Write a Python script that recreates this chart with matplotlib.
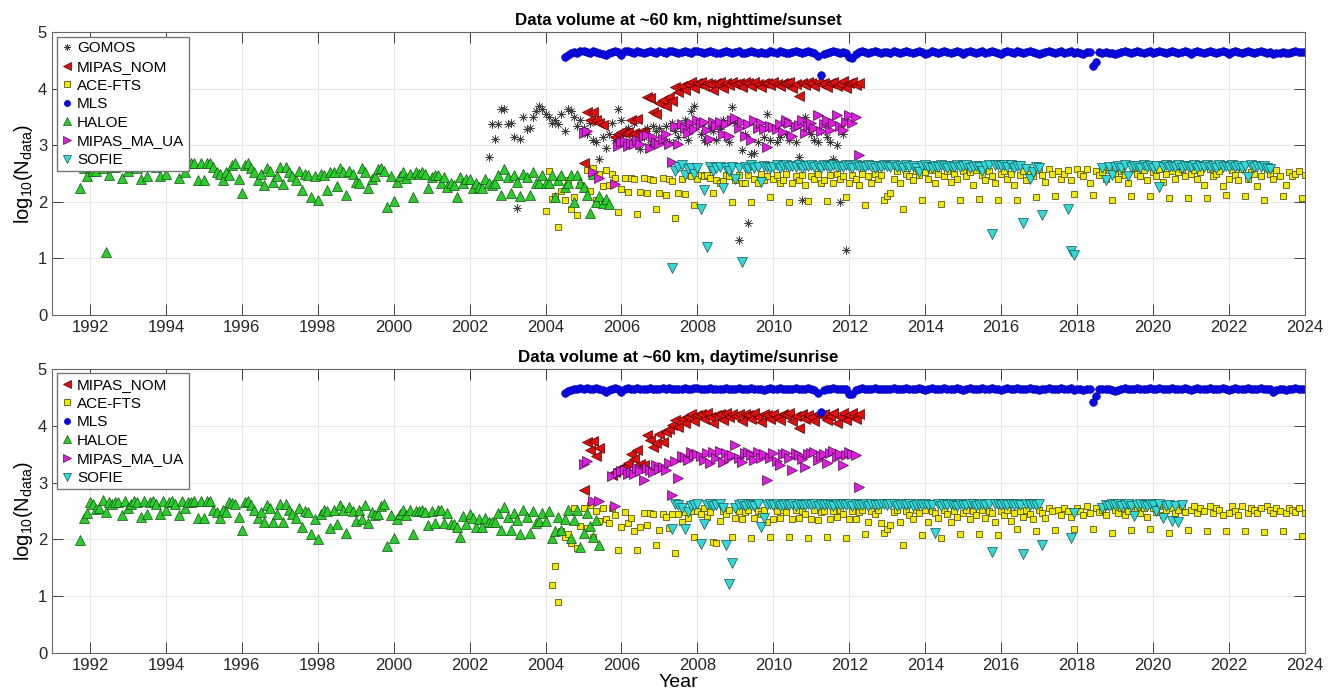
import numpy as np
import matplotlib.pyplot as plt

plt.rcParams['font.family'] = ['Liberation Sans', 'DejaVu Sans']
plt.rcParams['mathtext.fontset'] = 'custom'
plt.rcParams['mathtext.rm'] = 'Liberation Sans'
plt.rcParams['mathtext.it'] = 'Liberation Sans:italic'

nan = np.nan

# ---- nighttime / sunset (monthly values, log10 of number of profiles) ----
gomos_ss_start = 2002.5
gomos_ss = [
    2.80, 3.37, 3.12, 3.37, 3.65, 3.65,
    3.37, 3.40, 3.15, 1.89, 3.12, 3.50, 3.28, 3.30, 3.50, 3.60, 3.69, 3.65,
    3.55, 3.50, 3.40, 3.45, 3.38, 3.55, 3.26, 3.65, 3.60, 3.50, 3.35, 3.45,
    3.30, 3.20, 3.40, 3.10, 3.05, 2.75, 3.15, 2.95, 3.20, 3.40, 3.10, 3.65,
    3.45, 3.25, 3.30, 3.05, 3.40, 3.20, 2.94, 3.15, 3.30, 3.00, 3.35, 3.25,
    3.30, 3.10, 3.35, 3.05, 3.40, 3.25, 3.15, 3.30, 3.45, 3.10, 3.60, 3.69,
    3.40, 3.20, 3.10, 3.05, 3.30, 3.25, 3.10, 3.28, 3.45, 3.15, 3.05, 3.67,
    3.40, 1.32, 2.91, 3.20, 1.62, 2.85, 2.87, 3.05, 3.35, 3.15, 3.55, 3.10,
    3.30, 3.05, 3.15, 3.40, 3.20, 3.10, 3.35, 3.05, 2.80, 2.03, 3.50, 3.30,
    3.20, 3.10, 3.05, 3.25, 3.40, 3.15, 3.05, 2.75, 3.00, 2.00, 3.20, 1.15,
]

mipas_nom_ss_start = 2005.0
mipas_nom_ss = [
    2.69, 3.59, 3.45, 3.59, 3.45, 3.39, 3.36, nan, nan, nan, 3.15, 3.20,
    3.24, 3.22, 3.24, 3.45, 3.21, 3.46, 3.24, 3.22, 3.85, 3.83, 3.59, 3.55,
    3.74, 3.80, 3.70, 3.85, 3.78, 4.03, 3.95, 4.05, 3.98, 4.08, 4.12, 4.02,
    4.10, 4.12, 4.05, 4.11, 4.08, 3.98, 4.10, 4.12, 4.02, 4.11, 4.06, 4.12,
    4.08, 4.11, 4.03, 4.12, 4.10, 4.05, 4.12, 4.09, 4.03, 4.11, 4.10, 4.06,
    4.12, 4.08, 4.04, 4.11, 4.10, 4.12, 4.02, 4.09, 3.87, 4.11, 4.06, 4.12,
    4.10, 4.04, 4.12, 4.08, 4.11, 4.03, 4.10, 4.12, 4.05, 4.08, 4.13, 4.02,
    4.10, 4.12, 4.06, 4.11,
]

ace_ss_start = 2004.0
ace_ss = [
    1.84, 2.54, 2.05, 2.10, 1.56, 2.20, 2.03, 2.38, 1.87, 2.08, 1.77, 2.30,
    2.22, 2.56, 2.20, 2.60, 2.03, 2.50, 2.28, 2.57, 2.30, 2.50, 2.43, 1.82,
    2.22, 2.42, 2.18, 2.42, 2.40, 1.78, 2.18, 2.43, 2.15, 2.40, 2.38, 1.87,
    2.16, 2.43, 2.13, 2.40, 2.37, 1.71, 2.16, 2.40, 2.14, 2.47, 2.45, 1.94,
    2.41, 2.47, 2.45, 2.47, 2.43, 2.15, 2.39, 2.33, 2.37, 2.47, 2.45, 2.00,
    2.39, 2.47, 2.33, 2.33, 2.47, 2.00, 2.41, 2.33, 2.50, 2.39, 2.45, 2.09,
    2.41, 2.47, 2.33, 2.39, 2.50, 2.00, 2.33, 2.45, 2.39, 2.47, 2.30, 2.02,
    2.45, 2.41, 2.50, 2.33, 2.39, 2.02, 2.47, 2.33, 2.50, 2.41, 2.45, 2.09,
    2.33, 2.47, 2.41, 2.30, 2.50, 1.94, 2.45, 2.33, 2.50, 2.41, 2.47, 2.03,
    2.10, 2.15, 2.41, 2.55, 2.33, 1.87, 2.50, 2.45, 2.38, 2.55, 2.47, 2.03,
    2.52, 2.41, 2.56, 2.33, 2.50, 1.96, 2.45, 2.55, 2.36, 2.50, 2.41, 2.03,
    2.55, 2.45, 2.52, 2.30, 2.56, 2.05, 2.47, 2.38, 2.55, 2.45, 2.33, 2.04,
    2.50, 2.55, 2.41, 2.50, 2.30, 2.03, 2.47, 2.55, 2.38, 2.50, 2.45, 2.09,
    2.56, 2.47, 2.36, 2.58, 2.50, 2.10, 2.55, 2.41, 2.50, 2.56, 2.38, 2.14,
    2.58, 2.50, 2.45, 2.58, 2.33, 2.12, 2.55, 2.47, 2.52, 2.41, 2.56, 2.04,
    2.50, 2.41, 2.55, 2.47, 2.33, 2.10, 2.58, 2.50, 2.45, 2.56, 2.38, 2.10,
    2.52, 2.45, 2.58, 2.36, 2.50, 2.06, 2.55, 2.41, 2.52, 2.58, 2.45, 2.07,
    2.50, 2.56, 2.41, 2.52, 2.30, 2.07, 2.58, 2.45, 2.50, 2.55, 2.28, 2.12,
    2.41, 2.56, 2.47, 2.38, 2.58, 2.10, 2.41, 2.52, 2.50, 2.28, 2.45, 2.04,
    2.58, 2.50, 2.41, 2.56, 2.45, 2.10, 2.30, 2.52, 2.45, 2.50, 2.55, 2.06,
    2.47,
]

mls_ss_start = 2004.5
mls_ss = [
    4.57, 4.60, 4.63, 4.65, 4.64, 4.66,
    4.66, 4.65, 4.64, 4.66, 4.65, 4.64, 4.62, 4.60, 4.63, 4.65, 4.66, 4.65,
    4.60, 4.66, 4.67, 4.65, 4.64, 4.66, 4.65, 4.63, 4.65, 4.66, 4.65, 4.64,
    4.66, 4.65, 4.64, 4.66, 4.67, 4.65, 4.64, 4.65, 4.66, 4.65, 4.64, 4.66,
    4.67, 4.65, 4.64, 4.65, 4.66, 4.65, 4.64, 4.63, 4.65, 4.66, 4.65, 4.64,
    4.65, 4.66, 4.64, 4.63, 4.65, 4.66, 4.65, 4.64, 4.65, 4.63, 4.64, 4.66,
    4.65, 4.64, 4.66, 4.65, 4.64, 4.63, 4.65, 4.66, 4.65, 4.64, 4.65, 4.66,
    4.65, 4.63, 4.58, 4.24, 4.62, 4.64, 4.65, 4.66, 4.65, 4.64, 4.65, 4.64,
    4.56, 4.55, 4.62, 4.65, 4.66, 4.65, 4.64, 4.65, 4.66, 4.65, 4.64, 4.65,
    4.65, 4.64, 4.66, 4.65, 4.64, 4.65, 4.66, 4.65, 4.64, 4.65, 4.66, 4.65,
    4.62, 4.64, 4.66, 4.65, 4.64, 4.65, 4.66, 4.65, 4.64, 4.65, 4.66, 4.65,
    4.62, 4.65, 4.66, 4.65, 4.64, 4.65, 4.66, 4.64, 4.65, 4.66, 4.65, 4.64,
    4.62, 4.65, 4.66, 4.65, 4.64, 4.66, 4.65, 4.64, 4.65, 4.66, 4.65, 4.64,
    4.62, 4.64, 4.65, 4.66, 4.65, 4.64, 4.65, 4.66, 4.64, 4.65, 4.66, 4.63,
    4.65, 4.64, 4.62, 4.65, 4.65, 4.40, 4.48, 4.65, 4.64, 4.65, 4.64, 4.63,
    4.61, 4.63, 4.65, 4.66, 4.65, 4.64, 4.65, 4.66, 4.65, 4.64, 4.65, 4.66,
    4.64, 4.65, 4.66, 4.65, 4.64, 4.65, 4.66, 4.65, 4.64, 4.65, 4.66, 4.65,
    4.62, 4.65, 4.66, 4.65, 4.64, 4.65, 4.66, 4.65, 4.64, 4.65, 4.66, 4.65,
    4.62, 4.65, 4.66, 4.65, 4.64, 4.65, 4.66, 4.65, 4.64, 4.65, 4.66, 4.65,
    4.64, 4.65, 4.61, 4.63, 4.64, 4.65, 4.63, 4.64, 4.65, 4.66, 4.65, 4.65,
    4.65,
]

haloe_ss_start = 1991.75
haloe_ss = [
    2.25, 2.60, 2.45,
    2.62, 2.55, 2.55, 2.68, 2.60, 1.12, 2.48, 2.62, 2.62, 2.68, 2.42, 2.65,
    2.55, 2.62, 2.68, 2.60, 2.40, 2.68, 2.45, 2.65, 2.68, 2.62, 2.45, 2.68,
    2.50, 2.68, 2.65, 2.68, 2.42, 2.68, 2.52, 2.68, 2.68, 2.68, 2.38, 2.68,
    2.38, 2.68, 2.68, 2.62, 2.52, 2.50, 2.38, 2.52, 2.48, 2.65, 2.68, 2.40,
    2.16, 2.65, 2.68, 2.60, 2.52, 2.38, 2.50, 2.30, 2.60, 2.55, 2.35, 2.45,
    2.62, 2.32, 2.62, 2.52, 2.45, 2.38, 2.55, 2.21, 2.50, 2.48, 2.09, 2.45,
    2.03, 2.50, 2.48, 2.21, 2.52, 2.52, 2.28, 2.60, 2.52, 2.12, 2.55, 2.50,
    2.35, 2.33, 2.60, 2.52, 2.25, 2.40, 2.45, 2.58, 2.60, 2.55, 1.91, 2.45,
    2.01, 2.35, 2.45, 2.52, 2.42, 2.50, 2.09, 2.52, 2.50, 2.52, 2.50, 2.25,
    2.44, 2.47, 2.47, 2.33, 2.44, 2.27, 2.33, 2.30, 2.08, 2.44, 2.33, 2.41,
    2.41, 2.24, 2.33, 2.27, 2.24, 2.41, 2.33, 2.30, 2.33, 2.47, 2.13, 2.59,
    2.44, 2.15, 2.47, 2.36, 2.10, 2.50, 2.44, 2.12, 2.52, 2.33, 2.33, 2.47,
    2.33, 2.33, 2.47, 2.08, 2.38, 2.47, 2.27, 2.33, 2.47, 2.00, 2.47, 2.33,
    2.27, 2.12, 1.80, 2.50, 2.00, 2.10, 1.98, 2.05, 1.96,
]

mipas_ua_ss_start = 2005.0
mipas_ua_ss = [
    3.22, 3.26, nan, 2.53, nan, 2.43, nan, nan, nan, nan, 2.31, 2.99,
    3.05, 3.08, 2.98, 3.04, 3.02, 3.10, 3.02, 3.16, 3.18, 2.96, 3.14, 3.06,
    3.03, 3.12, 3.20, 3.03, 2.71, 3.34, 3.02, 3.37, 3.30, 3.22, 3.40, 3.28,
    3.45, 3.38, 3.41, 3.27, 3.12, 3.41, 3.35, 3.41, 3.20, 3.38, 3.17, 3.44,
    3.49, 3.30, 3.42, 3.17, 3.38, 3.10, 3.44, 3.30, 3.40, 3.28, 2.97, 3.35,
    3.33, 3.28, 3.38, 3.23, 3.44, 3.40, 3.16, 3.32, 3.36, 3.44, 3.22, 3.35,
    3.40, 3.30, 3.53, 3.25, 3.38, 3.45, 3.27, 3.40, 3.53, 3.34, 3.27, 3.42,
    3.53, 3.40, 3.50, 2.83,
]

sofie_ss_start = 2007 + 4 / 12
sofie_ss = [
    0.83, 2.55, 2.62, 2.65, 2.47, 2.58, 2.60, 2.50,
    2.60, 1.88, 2.21, 1.21, 2.62, 2.55, 2.60, 2.62, 2.24, 2.60, 2.55, 2.62,
    2.41, 2.60, 0.94, 2.62, 2.58, 2.65, 2.60, 2.62, 2.36, 2.63, 2.62, 2.60,
    2.62, 2.65, 2.60, 2.63, 2.65, 2.61, 2.64, 2.62, 2.65, 2.60, 2.64, 2.63,
    2.65, 2.62, 2.64, 2.60, 2.65, 2.63, 2.62, 2.65, 2.61, 2.64, 2.62, 2.65,
    2.63, 2.60, 2.65, 2.62, 2.64, 2.61, 2.65, 2.63, 2.60, 2.64, 2.62, 2.65,
    2.64, 2.61, 2.65, 2.62, 2.63, 2.60, 2.65, 2.62, 2.64, 2.60, 2.52, 2.63,
    2.65, 2.62, 2.60, 2.64, 2.61, 2.65, 2.63, 2.60, 2.64, 2.62, 2.65, 2.61,
    2.63, 2.65, 2.60, 2.62, 2.64, 2.61, 2.55, 2.63, 2.65, 1.44, 2.66, 2.65,
    2.64, 2.66, 2.62, 2.65, 2.60, 2.63, 2.64, 1.63, 2.58, 2.41, 2.52, 2.62,
    2.60, 1.77, nan, nan, nan, nan, nan, nan, nan, 1.87, 1.14, 1.06,
    nan, nan, nan, nan, nan, nan, nan, nan, 2.60, 2.39, 2.62, 2.48,
    2.62, 2.64, 2.60, 2.65, 2.45, 2.62, 2.63, 2.64, 2.60, 2.65, 2.62, 2.64,
    2.60, 2.63, 2.26, 2.62, 2.65, 2.61, 2.64, 2.62, 2.65, 2.60, 2.63, 2.64,
    2.62, 2.65, 2.60, 2.64, 2.62, 2.65, 2.61, 2.63, 2.60, 2.65, 2.62, 2.64,
    2.61, 2.65, 2.62, 2.64, 2.60, 2.63, 2.44, 2.65, 2.61, 2.64, 2.62, 2.63,
    2.60, 2.59,
]

# ---- daytime / sunrise ----
mipas_nom_sr_start = 2005.0
mipas_nom_sr = [
    2.86, 3.72, 3.57, 3.73, 3.47, 3.60, nan, nan, nan, 3.13, 3.18, 3.23,
    3.25, 3.27, 3.35, 3.50, 3.42, 3.57, 3.33, 3.30, 3.84, 3.75, 3.63, 3.70,
    3.86, 3.72, 3.88, 3.95, 4.02, 4.10, 3.98, 4.12, 4.05, 4.15, 4.20, 4.08,
    4.18, 4.20, 4.12, 4.22, 4.15, 4.05, 4.18, 4.20, 4.10, 4.22, 4.15, 4.20,
    4.17, 4.21, 4.08, 4.20, 4.18, 4.12, 4.22, 4.15, 4.06, 4.20, 4.18, 4.12,
    4.21, 4.15, 4.10, 4.20, 4.18, 4.22, 4.08, 4.17, 3.96, 4.20, 4.12, 4.19,
    4.16, 4.08, 4.21, 4.18, 4.20, 4.10, 4.17, 4.22, 4.05, 4.15, 4.23, 4.10,
    4.18, 4.22, 4.12, 4.20,
]

ace_sr_start = 2004.0
ace_sr = [
    nan, nan, 1.20, 1.53, 0.90, 2.14, 2.04, 2.10, 1.94, 2.56, 1.84, 2.24,
    2.55, 2.20, 2.60, 2.05, 2.50, 2.33, 2.55, 2.35, 2.28, 2.55, 2.42, 1.81,
    2.22, 2.48, 2.28, 2.38, 2.14, 1.81, 2.22, 2.46, 2.25, 2.47, 2.45, 1.90,
    2.16, 2.45, 2.40, 2.20, 2.44, 1.76, 2.45, 2.30, 2.48, 2.37, 2.50, 2.05,
    2.50, 2.45, 2.55, 2.40, 2.48, 1.96, 1.94, 2.33, 2.50, 2.45, 2.52, 2.05,
    2.37, 2.50, 2.36, 2.48, 2.52, 2.03, 2.38, 2.50, 2.44, 2.52, 2.30, 2.05,
    2.35, 2.50, 2.37, 2.52, 2.48, 2.04, 2.36, 2.52, 2.38, 2.50, 2.45, 2.03,
    2.36, 2.52, 2.34, 2.48, 2.50, 2.04, 2.35, 2.50, 2.40, 2.52, 2.45, 2.03,
    2.36, 2.50, 2.35, 2.48, 2.52, 2.10, 2.30, 2.50, 2.45, 2.52, 2.28, 2.12,
    2.18, 2.25, 2.48, 2.52, 2.31, 1.90, 2.50, 2.43, 2.35, 2.52, 2.46, 2.07,
    2.52, 2.31, 2.50, 2.46, 2.38, 2.03, 2.52, 2.45, 2.31, 2.50, 2.40, 2.10,
    2.46, 2.52, 2.35, 2.50, 2.43, 2.10, 2.52, 2.38, 2.50, 2.46, 2.31, 2.07,
    2.50, 2.43, 2.52, 2.33, 2.46, 2.19, 2.50, 2.40, 2.52, 2.45, 2.35, 2.15,
    2.52, 2.46, 2.38, 2.55, 2.50, 2.17, 2.52, 2.43, 2.55, 2.50, 2.40, 2.19,
    2.55, 2.50, 2.43, 2.58, 2.46, 2.19, 2.55, 2.48, 2.52, 2.43, 2.58, 2.11,
    2.52, 2.46, 2.55, 2.43, 2.50, 2.16, 2.58, 2.52, 2.46, 2.55, 2.40, 2.19,
    2.55, 2.48, 2.58, 2.43, 2.52, 2.11, 2.55, 2.46, 2.52, 2.58, 2.48, 2.17,
    2.52, 2.58, 2.46, 2.55, 2.50, 2.15, 2.58, 2.46, 2.55, 2.52, 2.43, 2.14,
    2.46, 2.58, 2.50, 2.43, 2.58, 2.14, 2.46, 2.55, 2.52, 2.46, 2.55, 2.13,
    2.58, 2.52, 2.46, 2.55, 2.50, 2.14, 2.46, 2.55, 2.52, 2.48, 2.55, 2.06,
    2.47,
]

mls_sr_start = 2004.5
mls_sr = [
    4.57, 4.61, 4.63, 4.65, 4.65, 4.66,
    4.65, 4.66, 4.64, 4.65, 4.66, 4.64, 4.63, 4.60, 4.63, 4.65, 4.66, 4.65,
    4.60, 4.65, 4.66, 4.65, 4.64, 4.66, 4.65, 4.64, 4.65, 4.66, 4.65, 4.64,
    4.65, 4.66, 4.64, 4.66, 4.65, 4.65, 4.64, 4.65, 4.66, 4.65, 4.64, 4.66,
    4.67, 4.65, 4.64, 4.65, 4.66, 4.65, 4.64, 4.64, 4.65, 4.66, 4.65, 4.64,
    4.65, 4.66, 4.64, 4.64, 4.65, 4.66, 4.65, 4.64, 4.65, 4.63, 4.64, 4.66,
    4.65, 4.64, 4.66, 4.65, 4.64, 4.64, 4.65, 4.66, 4.65, 4.64, 4.65, 4.66,
    4.65, 4.63, 4.58, 4.24, 4.62, 4.64, 4.65, 4.66, 4.65, 4.64, 4.65, 4.65,
    4.56, 4.55, 4.62, 4.65, 4.66, 4.65, 4.64, 4.65, 4.66, 4.65, 4.64, 4.65,
    4.64, 4.65, 4.66, 4.65, 4.64, 4.65, 4.66, 4.65, 4.64, 4.65, 4.66, 4.65,
    4.62, 4.64, 4.66, 4.65, 4.64, 4.65, 4.66, 4.65, 4.64, 4.65, 4.66, 4.65,
    4.62, 4.65, 4.66, 4.65, 4.64, 4.65, 4.66, 4.64, 4.65, 4.66, 4.65, 4.64,
    4.63, 4.65, 4.66, 4.65, 4.64, 4.66, 4.65, 4.64, 4.65, 4.66, 4.65, 4.64,
    4.62, 4.64, 4.65, 4.66, 4.65, 4.64, 4.65, 4.66, 4.64, 4.65, 4.66, 4.63,
    4.65, 4.64, 4.62, 4.65, 4.65, 4.42, 4.52, 4.65, 4.64, 4.65, 4.64, 4.63,
    4.61, 4.63, 4.65, 4.66, 4.65, 4.64, 4.65, 4.66, 4.65, 4.64, 4.65, 4.66,
    4.64, 4.65, 4.66, 4.65, 4.64, 4.65, 4.66, 4.65, 4.64, 4.65, 4.66, 4.65,
    4.62, 4.65, 4.66, 4.65, 4.64, 4.65, 4.66, 4.65, 4.64, 4.65, 4.66, 4.65,
    4.62, 4.65, 4.66, 4.65, 4.64, 4.65, 4.66, 4.65, 4.64, 4.65, 4.66, 4.65,
    4.64, 4.65, 4.60, 4.63, 4.64, 4.65, 4.63, 4.64, 4.65, 4.66, 4.65, 4.65,
    4.65,
]

haloe_sr_start = 1991.75
haloe_sr = [
    1.99, 2.38, 2.47,
    2.66, 2.63, 2.54, 2.55, 2.69, 2.48, 2.65, 2.62, 2.65, 2.66, 2.42, 2.68,
    2.55, 2.62, 2.68, 2.65, 2.40, 2.68, 2.45, 2.66, 2.68, 2.63, 2.45, 2.68,
    2.52, 2.66, 2.68, 2.62, 2.43, 2.68, 2.55, 2.65, 2.66, 2.68, 2.38, 2.68,
    2.38, 2.68, 2.68, 2.52, 2.48, 2.38, 2.52, 2.48, 2.65, 2.64, 2.62, 2.40,
    2.16, 2.65, 2.68, 2.60, 2.52, 2.38, 2.48, 2.30, 2.60, 2.55, 2.30, 2.45,
    2.62, 2.30, 2.62, 2.52, 2.45, 2.38, 2.55, 2.22, 2.50, 2.48, 2.10, 2.35,
    2.00, 2.45, 2.52, 2.50, 2.20, 2.52, 2.27, 2.60, 2.52, 2.12, 2.57, 2.50,
    2.33, 2.52, 2.35, 2.60, 2.28, 2.48, 2.42, 2.45, 2.58, 2.62, 1.88, 2.42,
    2.03, 2.35, 2.45, 2.52, 2.42, 2.52, 2.10, 2.50, 2.50, 2.52, 2.48, 2.25,
    2.50, 2.28, 2.52, 2.52, 2.29, 2.46, 2.27, 2.27, 2.22, 2.05, 2.41, 2.27,
    2.45, 2.37, 2.22, 2.36, 2.21, 2.37, 2.31, 2.31, 2.31, 2.46, 2.16, 2.57,
    2.40, 2.17, 2.46, 2.34, 2.10, 2.51, 2.40, 2.12, 2.49, 2.29, 2.33, 2.46,
    2.33, 2.49, 2.02, 2.14, 2.40, 2.17, 2.36, 2.52, 2.02, 2.34, 2.52, 1.87,
    2.11, 2.46, 2.24, 2.05, 2.34, 1.90,
]

mipas_ua_sr_start = 2005.0
mipas_ua_sr = [
    3.32, 3.38, nan, 2.68, nan, 2.68, nan, nan, nan, 3.12, 2.58, 3.17,
    3.20, 3.22, 3.15, 3.18, 3.15, 3.25, 3.20, 3.05, 3.25, 3.22, 3.18, 3.30,
    3.24, 3.28, 3.22, 3.35, 2.78, 3.38, 3.08, 3.47, 3.45, 3.40, 3.54, 3.48,
    3.50, 3.47, 3.40, 3.52, 3.34, 3.54, 3.44, 3.55, 3.36, 3.52, 3.43, 3.48,
    3.66, 3.43, 3.36, 3.52, 3.54, 3.48, 3.40, 3.54, 3.44, 3.50, 3.05, 3.43,
    3.52, 3.38, 3.30, 3.50, 3.52, 3.44, 3.22, 3.52, 3.48, 3.42, 3.28, 3.50,
    3.52, 3.54, 3.40, 3.47, 3.50, 3.34, 3.52, 3.56, 3.45, 3.50, 3.30, 3.48,
    3.54, 3.50, 3.48, 2.92,
]

sofie_sr_start = 2007 + 4 / 12
sofie_sr = [
    2.18, 2.62, 2.60, 2.55, 2.18, 2.48, 2.58, 2.60,
    2.62, 1.92, 2.27, 2.60, 2.62, 2.58, 2.60, 2.62, 2.55, 1.90, 1.21, 1.59,
    2.55, 2.60, 2.62, 2.58, 2.62, 2.60, 2.58, 2.62, 2.22, 2.37, 2.60, 2.62,
    2.60, 2.62, 2.58, 2.61, 2.63, 2.60, 2.62, 2.59, 2.63, 2.61, 2.60, 2.62,
    2.61, 2.63, 2.59, 2.62, 2.60, 2.63, 2.61, 2.58, 2.62, 2.60, 2.63, 2.61,
    2.62, 2.59, 2.63, 2.61, 2.60, 2.62, 2.58, 2.63, 2.61, 2.60, 2.62, 2.63,
    2.60, 2.62, 2.63, 2.59, 2.61, 2.62, 2.60, 2.63, 2.58, 2.61, 2.62, 2.60,
    2.63, 2.61, 2.60, 2.12, 2.62, 2.59, 2.63, 2.60, 2.62, 2.61, 2.58, 2.63,
    2.61, 2.60, 2.63, 2.62, 2.59, 2.61, 2.63, 2.60, 2.62, 1.77, 2.63, 2.62,
    2.60, 2.63, 2.61, 2.62, 2.60, 2.63, 2.61, 1.74, 2.62, 2.60, 2.63, 2.61,
    2.62, 1.90, nan, nan, nan, nan, nan, nan, nan, nan, 2.02, 2.46,
    nan, nan, nan, nan, nan, nan, nan, nan, 2.55, 2.60, 2.58, 2.62,
    2.60, 2.62, 2.58, 2.60, 2.62, 2.59, 2.41, 2.61, 2.62, 2.60, 2.58, 2.62,
    2.60, 2.50, 2.62, 2.37, 2.58, 2.60, 2.33, 2.58, 2.31, 2.60,
]

years = np.arange(1992, 2025, 2)

st_gomos = dict(marker=(8, 2, 0), ms=6, mec='#3c3c3c', mfc='none', mew=0.45)
st_nom = dict(marker='<', ms=6.5, mfc='#e01010', mec='#4a0000', mew=0.5)
st_ace = dict(marker='s', ms=5, mfc='#f2e800', mec='#3a3a00', mew=0.5)
st_mls = dict(marker='o', ms=5.5, mfc='#0a0ae6', mec='#0000b4', mew=0.5)
st_haloe = dict(marker='^', ms=6.5, mfc='#2ccc2c', mec='#145214', mew=0.5)
st_ua = dict(marker='>', ms=6.5, mfc='#dc1fdc', mec='#4a104a', mew=0.5)
st_sofie = dict(marker='v', ms=6.5, mfc='#33d8d8', mec='#1a5050', mew=0.5)


def put(ax, start, vals, style, label):
    vals = np.asarray(vals, float)
    t = start + np.arange(len(vals)) / 12
    ax.plot(t, vals, linestyle='none', label=label, **style)


def dress(ax, title):
    ax.set_xlim(1991, 2024)
    ax.set_ylim(0, 5)
    ax.set_xticks(years)
    ax.set_yticks(range(6))
    ax.grid(True, color='#e6e6e6', lw=0.7)
    ax.set_axisbelow(True)
    ax.tick_params(direction='in', length=8, width=0.6, top=True, right=True,
                   labelsize=12, colors='#262626')
    for s in ax.spines.values():
        s.set_color('#666666')
        s.set_linewidth(0.8)
    ax.set_title(title, fontsize=12.2, fontweight='bold', pad=5)
    ax.set_ylabel('log$_{10}$(N$_{\\mathrm{data}}$)', fontsize=14.5, labelpad=2)
    ax.legend(loc='upper left', fontsize=11, frameon=True, fancybox=False,
              edgecolor='#777777', framealpha=1, borderpad=0.3,
              labelspacing=0.3, handlelength=0.8, handletextpad=0.25,
              borderaxespad=0.3, markerscale=0.8)


fig = plt.figure(figsize=(13.4, 7.0), dpi=100)
ax1 = fig.add_axes([0.0388, 0.55, 0.935, 0.404])
ax2 = fig.add_axes([0.0388, 0.0671, 0.935, 0.406])

put(ax1, gomos_ss_start, gomos_ss, st_gomos, 'GOMOS')
put(ax1, mipas_nom_ss_start, mipas_nom_ss, st_nom, 'MIPAS_NOM')
put(ax1, ace_ss_start, ace_ss, st_ace, 'ACE-FTS')
put(ax1, mls_ss_start, mls_ss, st_mls, 'MLS')
put(ax1, haloe_ss_start, haloe_ss, st_haloe, 'HALOE')
put(ax1, mipas_ua_ss_start, mipas_ua_ss, st_ua, 'MIPAS_MA_UA')
put(ax1, sofie_ss_start, sofie_ss, st_sofie, 'SOFIE')
dress(ax1, 'Data volume at ~60 km, nighttime/sunset')

put(ax2, mipas_nom_sr_start, mipas_nom_sr, st_nom, 'MIPAS_NOM')
put(ax2, ace_sr_start, ace_sr, st_ace, 'ACE-FTS')
put(ax2, mls_sr_start, mls_sr, st_mls, 'MLS')
put(ax2, haloe_sr_start, haloe_sr, st_haloe, 'HALOE')
put(ax2, mipas_ua_sr_start, mipas_ua_sr, st_ua, 'MIPAS_MA_UA')
put(ax2, sofie_sr_start, sofie_sr, st_sofie, 'SOFIE')
dress(ax2, 'Data volume at ~60 km, daytime/sunrise')
ax2.set_xlabel('Year', fontsize=14, labelpad=1)

fig.savefig('out.png', dpi=100)
